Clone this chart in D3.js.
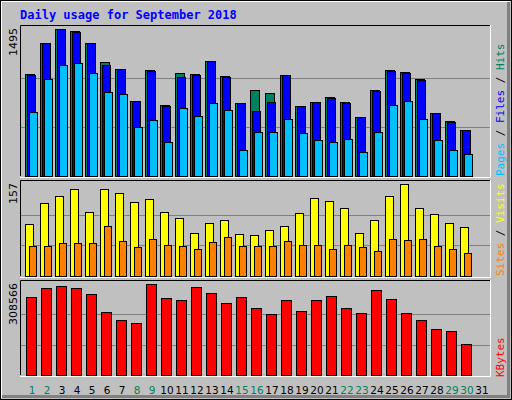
<!DOCTYPE html>
<html><head><meta charset="utf-8">
<script src="https://cdn.jsdelivr.net/npm/d3@7"></script>
<style>body{margin:0;background:#fff}</style></head>
<body><svg id="c" width="512" height="400"></svg>
<script>
const days = d3.range(1,32);
const weekend = [1,2,8,9,15,16,22,23,29,30];
const hits  = [1034,1350,1495,1471,1350,1156,1085,760,1075,719,1044,1034,1166,1014,739,872,841,1024,709,750,800,750,597,872,1075,1055,983,638,556,465,0];
const files = [1024,1350,1492,1468,1350,1126,1085,760,1065,709,1010,1024,1166,1004,739,658,750,1024,709,750,790,739,597,861,1065,1044,973,638,546,465,0];
const pages = [648,983,1126,1146,1044,851,831,495,566,343,688,607,739,668,261,444,444,577,434,363,343,373,241,444,719,760,577,363,261,221,0];
const visits= [89,125,137,148,109,148,142,126,131,109,99,73,90,96,72,70,78,85,108,133,128,116,73,96,137,157,116,106,90,84,0];
const sites = [51,51,56,56,56,85,60,49,63,53,51,46,58,67,51,51,51,60,53,53,46,53,49,43,63,61,63,51,46,39,0];
const kbytes= [264490,295008,301790,295008,274663,213627,186500,176327,308566,261099,254318,298399,278054,244145,264490,227190,206845,254318,217018,254318,267881,227190,210236,288227,257708,210236,186500,155981,149200,105118,0];
const svg = d3.select("#c");
svg.append("rect").attr("width",512).attr("height",400).attr("fill","#c0c0c0");
svg.append("rect").attr("x",0.5).attr("y",0.5).attr("width",511).attr("height",399).attr("fill","none").attr("stroke","#000");
svg.append("path").attr("d","M1.5,398V1.5H510").attr("stroke","#fff").attr("fill","none").attr("stroke-width",1);
svg.append("path").attr("d","M2,396.5H508.5V2").attr("stroke","#808080").attr("fill","none").attr("stroke-width",3);
svg.append("text").attr("x",20).attr("y",19).text("Daily usage for September 2018")
  .attr("font-family","DejaVu Sans Mono").attr("font-weight","bold").attr("font-size",12).attr("fill","#0000ff");
const x = d3.scaleBand().domain(days).range([20,485]).paddingInner(0);
const step = 15, x0 = d=>25+(d-1)*step;
function panel(top,bottom,max,label){
  const y=d3.scaleLinear().domain([0,max]).range([bottom,top]);
  svg.append("path").attr("d",`M20.5,${bottom}V${top-4}.5H490`).attr("stroke","#000").attr("fill","none");
  svg.append("path").attr("d",`M20,${bottom+1}.5H490.5V${top-4}`).attr("stroke","#fff").attr("fill","none");
  [1/3,2/3].forEach(f=>svg.append("line").attr("x1",21).attr("x2",490).attr("y1",Math.round(y(max*f))+0.5).attr("y2",Math.round(y(max*f))+0.5).attr("stroke","#808080"));
  svg.append("text").attr("transform",`translate(17,${top-1}) rotate(-90)`).attr("text-anchor","end")
    .attr("font-family","DejaVu Sans").attr("font-size",11).text(label);
  return y;
}
function bars(data,y,off,w,col){
  svg.append("g").selectAll("rect").data(days.filter(d=>data[d-1]>0)).join("rect")
   .attr("x",d=>x0(d)+off+0.5).attr("width",w).attr("y",d=>Math.round(y(data[d-1]))+0.5)
   .attr("height",d=>y(0)-Math.round(y(data[d-1]))).attr("fill",col).attr("stroke","#000");
}
const y1=panel(29,176,1495,"1495");
bars(hits,y1,0,9,"#00805c"); bars(files,y1,2,8,"#0000ff"); bars(pages,y1,4,8,"#00c0ff");
const y2=panel(184,276,157,"157");
bars(visits,y2,0,8,"#ffff00"); bars(sites,y2,4,7,"#ff8000");
const y3=panel(284,375,308566,"308566");
bars(kbytes,y3,1,10,"#ff0000");
function rlabel(yb,parts){
  const t=svg.append("text").attr("transform",`translate(504,${yb}) rotate(-90)`)
   .attr("font-family","DejaVu Sans Mono").attr("font-size",11);
  parts.forEach(p=>t.append("tspan").attr("fill",p[1]).text(p[0]));
}
rlabel(176,[["Pages","#00c0ff"],[" / ","#000"],["Files","#0000ff"],[" / ","#000"],["Hits","#00805c"]]);
rlabel(276,[["Sites","#ff8000"],[" / ","#000"],["Visits","#ffff00"]]);
rlabel(377,[["KBytes","#ff0000"]]);
svg.append("g").selectAll("text").data(days).join("text")
  .attr("x",d=>x0(d)+7).attr("y",394).attr("text-anchor","middle")
  .attr("font-family","DejaVu Sans").attr("font-size",10.5)
  .attr("fill",d=>weekend.includes(d)?"#00805c":"#000").text(d=>d);
</script></body></html>
